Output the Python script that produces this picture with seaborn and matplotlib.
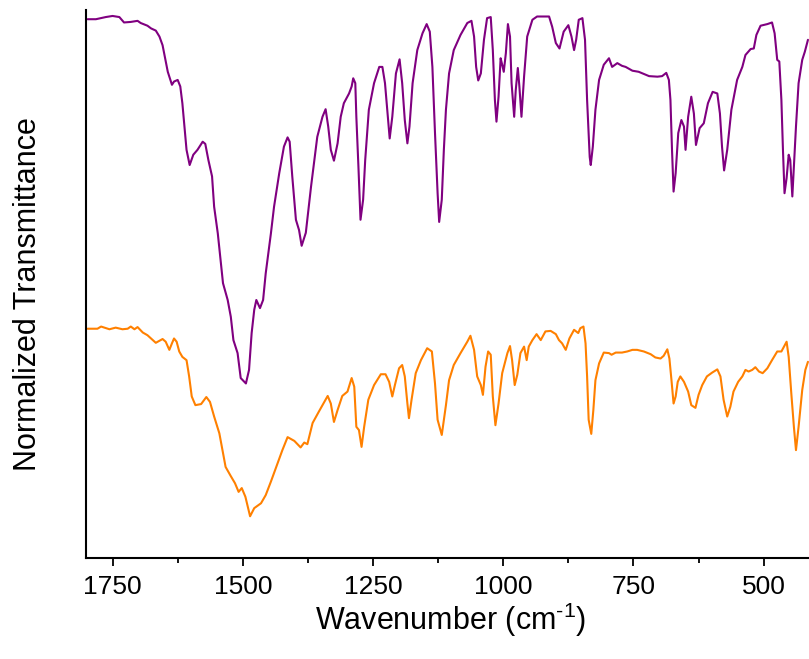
import matplotlib
matplotlib.use("Agg")
import matplotlib.pyplot as plt
from matplotlib.ticker import MultipleLocator
import numpy as np
import pandas as pd
import seaborn as sns

# ---- data ----
purple_wn = [1798, 1782, 1763, 1750, 1737, 1728, 1715, 1702, 1696, 1683, 1676, 1667, 1660, 1654, 1649,
             1644, 1636, 1632, 1625, 1620, 1616, 1612, 1608, 1602, 1595, 1587, 1577, 1572, 1566, 1559,
             1555, 1548, 1542, 1538, 1529, 1523, 1518, 1510, 1504, 1494, 1488, 1483, 1478, 1474, 1467,
             1461, 1456, 1446, 1440, 1430, 1421, 1414, 1410, 1405, 1398, 1392, 1387, 1379, 1369, 1357,
             1347, 1341, 1336, 1331, 1325, 1318, 1312, 1306, 1296, 1291, 1288, 1284, 1282, 1278, 1274,
             1269, 1265, 1258, 1248, 1238, 1232, 1227, 1222, 1218, 1213, 1206, 1199, 1194, 1189, 1184,
             1180, 1174, 1165, 1155, 1147, 1141, 1136, 1131, 1126, 1123, 1118, 1114, 1110, 1104, 1095,
             1082, 1069, 1061, 1056, 1052, 1048, 1043, 1037, 1031, 1024, 1020, 1016, 1013, 1009, 1005,
             1002, 999, 995, 991, 987, 984, 979, 976, 972, 969, 965, 960, 954, 944, 935,
             912, 906, 899, 892, 884, 875, 869, 864, 860, 855, 848, 843, 839, 834, 832,
             828, 823, 816, 807, 797, 791, 781, 772, 765, 752, 740, 720, 704, 695, 687,
             682, 679, 676, 673, 669, 664, 658, 653, 650, 645, 639, 634, 630, 623, 615,
             607, 598, 589, 584, 580, 576, 570, 562, 551, 541, 535, 525, 519, 514, 506,
             493, 484, 479, 474, 470, 466, 463, 460, 456, 452, 449, 445, 442, 438, 433,
             426, 421, 415]
purple_t = [0.994, 0.994, 0.998, 1.000, 0.998, 0.988, 0.989, 0.991, 0.987, 0.982, 0.977, 0.973, 0.962, 0.946, 0.922,
            0.897, 0.873, 0.879, 0.882, 0.870, 0.839, 0.796, 0.753, 0.725, 0.744, 0.753, 0.768, 0.764, 0.734, 0.704,
            0.648, 0.599, 0.544, 0.507, 0.476, 0.445, 0.402, 0.378, 0.332, 0.322, 0.347, 0.415, 0.458, 0.476, 0.461,
            0.476, 0.525, 0.599, 0.648, 0.710, 0.759, 0.776, 0.768, 0.704, 0.624, 0.605, 0.576, 0.600, 0.685, 0.777,
            0.814, 0.828, 0.796, 0.753, 0.733, 0.765, 0.814, 0.839, 0.857, 0.870, 0.885, 0.876, 0.814, 0.722, 0.624,
            0.661, 0.734, 0.827, 0.876, 0.906, 0.906, 0.876, 0.820, 0.774, 0.814, 0.894, 0.920, 0.876, 0.808, 0.765,
            0.796, 0.876, 0.937, 0.968, 0.985, 0.971, 0.906, 0.784, 0.673, 0.620, 0.661, 0.753, 0.827, 0.894, 0.937,
            0.965, 0.987, 0.991, 0.962, 0.906, 0.881, 0.894, 0.956, 0.996, 0.998, 0.937, 0.845, 0.805, 0.851, 0.922,
            0.910, 0.897, 0.931, 0.985, 0.962, 0.876, 0.814, 0.863, 0.904, 0.870, 0.814, 0.888, 0.962, 0.993, 0.999,
            0.999, 0.980, 0.950, 0.940, 0.971, 0.983, 0.962, 0.937, 0.956, 0.993, 0.996, 0.956, 0.845, 0.740, 0.725,
            0.759, 0.827, 0.882, 0.910, 0.922, 0.906, 0.913, 0.908, 0.906, 0.899, 0.897, 0.889, 0.888, 0.889, 0.895,
            0.882, 0.845, 0.753, 0.676, 0.710, 0.784, 0.808, 0.796, 0.753, 0.814, 0.851, 0.820, 0.762, 0.793, 0.802,
            0.839, 0.860, 0.857, 0.820, 0.759, 0.715, 0.753, 0.827, 0.882, 0.906, 0.928, 0.939, 0.940, 0.965, 0.982,
            0.985, 0.988, 0.968, 0.919, 0.916, 0.845, 0.753, 0.673, 0.701, 0.744, 0.734, 0.667, 0.722, 0.796, 0.876,
            0.919, 0.934, 0.956]

orange_wn = [1798, 1779, 1772, 1756, 1744, 1731, 1721, 1715, 1708, 1702, 1692, 1683, 1667, 1654, 1648,
             1641, 1636, 1632, 1627, 1622, 1616, 1608, 1603, 1598, 1591, 1580, 1570, 1563, 1555, 1545,
             1539, 1533, 1523, 1515, 1508, 1502, 1495, 1486, 1478, 1465, 1456, 1446, 1433, 1424, 1414,
             1401, 1389, 1382, 1376, 1366, 1354, 1337, 1331, 1325, 1318, 1309, 1299, 1291, 1286, 1282,
             1277, 1272, 1267, 1259, 1248, 1235, 1226, 1219, 1213, 1208, 1200, 1194, 1189, 1184, 1181,
             1176, 1168, 1158, 1146, 1137, 1131, 1126, 1118, 1110, 1104, 1095, 1082, 1069, 1063, 1056,
             1050, 1043, 1039, 1034, 1029, 1024, 1020, 1015, 1009, 1002, 992, 987, 983, 978, 973,
             967, 960, 955, 951, 944, 936, 928, 919, 909, 899, 893, 887, 880, 873, 864,
             856, 852, 846, 842, 839, 836, 831, 827, 823, 816, 807, 797, 792, 784, 772,
             762, 752, 743, 730, 717, 708, 698, 692, 685, 681, 677, 673, 669, 665, 660,
             653, 645, 639, 631, 625, 618, 609, 599, 589, 583, 577, 570, 564, 558, 549,
             541, 535, 529, 522, 516, 509, 502, 493, 484, 474, 466, 461, 456, 452, 447,
             442, 438, 433, 426, 420, 415]
orange_t = [0.423, 0.423, 0.427, 0.422, 0.425, 0.422, 0.423, 0.427, 0.422, 0.426, 0.416, 0.411, 0.397, 0.404, 0.399,
            0.384, 0.396, 0.405, 0.399, 0.381, 0.371, 0.365, 0.335, 0.298, 0.282, 0.284, 0.297, 0.288, 0.261, 0.230,
            0.199, 0.168, 0.151, 0.138, 0.122, 0.129, 0.113, 0.077, 0.092, 0.101, 0.116, 0.141, 0.175, 0.199, 0.223,
            0.216, 0.204, 0.213, 0.210, 0.249, 0.270, 0.299, 0.285, 0.251, 0.273, 0.299, 0.307, 0.332, 0.316, 0.242,
            0.236, 0.205, 0.242, 0.292, 0.319, 0.339, 0.339, 0.325, 0.298, 0.319, 0.350, 0.356, 0.335, 0.285, 0.258,
            0.292, 0.341, 0.365, 0.387, 0.381, 0.322, 0.255, 0.227, 0.282, 0.328, 0.356, 0.378, 0.399, 0.410, 0.384,
            0.335, 0.319, 0.301, 0.353, 0.381, 0.375, 0.298, 0.245, 0.285, 0.341, 0.378, 0.391, 0.365, 0.319, 0.338,
            0.378, 0.390, 0.365, 0.390, 0.402, 0.413, 0.402, 0.418, 0.419, 0.413, 0.402, 0.396, 0.384, 0.405, 0.421,
            0.415, 0.424, 0.427, 0.396, 0.335, 0.255, 0.229, 0.273, 0.328, 0.359, 0.379, 0.378, 0.375, 0.379, 0.379,
            0.381, 0.384, 0.384, 0.381, 0.376, 0.370, 0.368, 0.373, 0.385, 0.368, 0.328, 0.285, 0.298, 0.325, 0.335,
            0.325, 0.307, 0.282, 0.277, 0.301, 0.319, 0.335, 0.342, 0.348, 0.335, 0.292, 0.261, 0.279, 0.307, 0.325,
            0.335, 0.347, 0.344, 0.347, 0.352, 0.344, 0.341, 0.350, 0.365, 0.381, 0.381, 0.390, 0.399, 0.371, 0.304,
            0.242, 0.199, 0.242, 0.310, 0.347, 0.362]

x_ticks = [1750, 1500, 1250, 1000, 750, 500]
x_label = "Wavenumber (cm$^{\u2010 1}$)"
y_label = "Normalized Transmittance"

# ---- style ----
sns.set_style("ticks")
plt.rcParams["font.family"] = ["Liberation Sans", "DejaVu Sans"]
plt.rcParams["mathtext.default"] = "regular"

fig = plt.figure(figsize=(8.09, 6.59), dpi=100)
ax = fig.add_axes([86 / 809, 1 - 558 / 659, 1 - 86 / 809, (558 - 10) / 659])

df_p = pd.DataFrame({"wn": purple_wn, "t": purple_t})
df_o = pd.DataFrame({"wn": orange_wn, "t": orange_t})
sns.lineplot(data=df_p, x="wn", y="t", ax=ax, color="#800080", lw=1.5, estimator=None, sort=False)
sns.lineplot(data=df_o, x="wn", y="t", ax=ax, color="#FF8000", lw=1.5, estimator=None, sort=False)

ax.set_xlim(1801, 413)
ax.set_ylim(0, 1.011)
ax.set_xticks(x_ticks)
ax.xaxis.set_minor_locator(MultipleLocator(125))
ax.set_yticks([])
sns.despine(ax=ax, top=True, right=True)
for s in ("left", "bottom"):
    ax.spines[s].set_linewidth(1.5)
    ax.spines[s].set_color("black")
ax.tick_params(axis="x", which="major", direction="out", length=6, width=1.3,
               labelsize=19, pad=6, colors="black")
ax.tick_params(axis="x", which="minor", direction="out", length=3.5, width=1.3, colors="black")
ax.set_xlabel(x_label, fontsize=22, color="black")
ax.set_ylabel(y_label, fontsize=22, color="black")
ax.xaxis.set_label_coords((451 - 86) / 723, -(630 - 558) / 548)
ax.xaxis.label.set_va("baseline")
ax.yaxis.set_label_coords(-(86 - 28) / 723, (558 - 294) / 548)
ax.yaxis.label.set_va("center")

fig.savefig("out.png", dpi=100)
